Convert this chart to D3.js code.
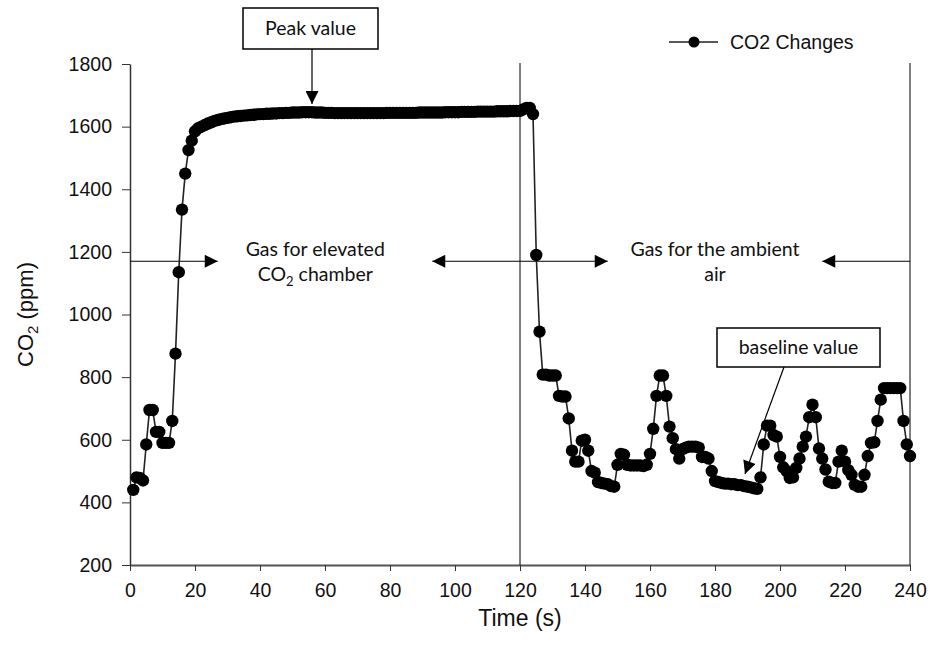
<!DOCTYPE html>
<html>
<head>
<meta charset="utf-8">
<script src="https://cdn.jsdelivr.net/npm/d3@7"></script>
<style>
  html, body { margin: 0; padding: 0; background: #fff; }
  svg { display: block; }
</style>
</head>
<body>
<div id="chart"></div>
<script>
// CO2 concentration logged once per second
const sampleStart = 1;   // first reading, s
const sampleStep = 1;    // seconds between readings
const co2Values = [
  440, 480, 478, 470, 585, 695, 695, 625, 625, 590,
  590, 590, 660, 875, 1135, 1335, 1450, 1525, 1555, 1585,
  1595, 1600, 1605, 1610, 1614, 1618, 1621, 1624, 1626, 1628,
  1630, 1632, 1633, 1634, 1635, 1636, 1637, 1638, 1639, 1640,
  1640, 1641, 1641, 1642, 1642, 1643, 1643, 1644, 1644, 1645,
  1645, 1645, 1646, 1646, 1646, 1646, 1645, 1645, 1645, 1644,
  1644, 1644, 1643, 1643, 1643, 1643, 1643, 1643, 1643, 1643,
  1643, 1643, 1643, 1643, 1643, 1643, 1643, 1643, 1644, 1644,
  1644, 1644, 1644, 1644, 1644, 1644, 1644, 1644, 1645, 1645,
  1645, 1645, 1645, 1645, 1645, 1645, 1646, 1646, 1646, 1646,
  1646, 1647, 1647, 1647, 1647, 1647, 1648, 1648, 1648, 1648,
  1648, 1648, 1649, 1649, 1649, 1649, 1650, 1650, 1650, 1650,
  1655, 1660, 1660, 1640, 1190, 945, 808, 808, 805, 805,
  805, 740, 738, 738, 668, 565, 530, 530, 597, 600,
  565, 500, 495, 465, 462, 460, 458, 452, 450, 520,
  555, 552, 520, 518, 518, 518, 518, 516, 520, 555,
  635, 740, 805, 805, 740, 642, 605, 570, 540, 570,
  575, 578, 578, 578, 575, 545, 545, 540, 500, 468,
  465, 462, 460, 460, 458, 458, 455, 455, 452, 450,
  448, 445, 443, 480, 585, 645, 645, 615, 610, 545,
  512, 500, 478, 480, 510, 540, 578, 610, 672, 712,
  672, 572, 540, 505, 466, 462, 462, 530, 565, 530,
  503, 488, 456, 450, 450, 488, 548, 590, 592, 660,
  728, 765, 765, 765, 765, 765, 765, 660, 585, 548
];
const seriesName = "CO2 Changes";

const xTicks = [0, 20, 40, 60, 80, 100, 120, 140, 160, 180, 200, 220, 240];
const yTicks = [200, 400, 600, 800, 1000, 1200, 1400, 1600, 1800];
const switchTimes = [120, 240];   // gas supply switched at these times
const arrowLevel = 1170;          // ppm level of the phase arrows

const data = co2Values.map((v, i) => ({ t: sampleStart + i * sampleStep, v }));

const W = 930, H = 647;
const margin = { left: 130, right: 20, top: 64, bottom: 82 };
const axisFont = "Arial, 'Liberation Sans', sans-serif";
const annFont = "Lato, 'Open Sans', sans-serif";

const svg = d3.select("#chart").append("svg")
  .attr("width", W).attr("height", H)
  .style("font-family", axisFont);

const defs = svg.append("defs");
defs.append("marker")
  .attr("id", "tri")
  .attr("viewBox", "0 0 10 10")
  .attr("refX", 10).attr("refY", 5)
  .attr("markerWidth", 14).attr("markerHeight", 13)
  .attr("markerUnits", "userSpaceOnUse")
  .attr("orient", "auto-start-reverse")
  .append("path").attr("d", "M0,0 L10,5 L0,10 Z").attr("fill", "#000");

const x = d3.scaleLinear().domain([0, 240]).range([margin.left, W - margin.right]);
const y = d3.scaleLinear().domain([200, 1800]).range([H - margin.bottom, margin.top]);

// Axes
const xAxis = svg.append("g")
  .attr("transform", `translate(0,${y(200)})`)
  .call(d3.axisBottom(x).tickValues(xTicks).tickFormat(d3.format("d"))
    .tickSize(6).tickSizeOuter(0).tickPadding(12));
xAxis.select(".domain").attr("stroke", "#555").attr("stroke-width", 2);
xAxis.selectAll(".tick line").attr("stroke", "#333");
xAxis.selectAll("text").attr("font-size", 19.5).attr("fill", "#111")
  .attr("font-family", axisFont);

const yAxis = svg.append("g")
  .attr("transform", `translate(${x(0)},0)`)
  .call(d3.axisLeft(y).tickValues(yTicks).tickFormat(d3.format("d"))
    .tickSize(8).tickSizeOuter(0).tickPadding(10));
yAxis.select(".domain").attr("stroke", "#333").attr("stroke-width", 1.5);
yAxis.selectAll(".tick line").attr("stroke", "#333");
yAxis.selectAll("text").attr("font-size", 19.5).attr("fill", "#111")
  .attr("font-family", axisFont);

// Vertical lines where the gas supply switches
svg.append("g").selectAll("line").data(switchTimes).join("line")
  .attr("x1", d => x(d)).attr("x2", d => x(d))
  .attr("y1", y(1800) - 1).attr("y2", y(200))
  .attr("stroke", "#000").attr("stroke-width", 1);

// Phase arrows
const ay = y(arrowLevel);
const arrows = [
  { x1: 0, x2: 27, start: false, end: true },
  { x1: 93, x2: 147, start: true, end: true },
  { x1: 213, x2: 240, start: true, end: false }
];
svg.append("g").selectAll("line").data(arrows).join("line")
  .attr("x1", d => x(d.x1)).attr("x2", d => x(d.x2))
  .attr("y1", ay).attr("y2", ay)
  .attr("stroke", "#000").attr("stroke-width", 1.2)
  .attr("marker-start", d => d.start ? "url(#tri)" : null)
  .attr("marker-end", d => d.end ? "url(#tri)" : null);

function phaseLabel(cx, lines) {
  const g = svg.append("g").attr("font-family", annFont).attr("font-size", 19.5)
    .attr("text-anchor", "middle").attr("fill", "#111");
  lines.forEach((ln, i) => {
    const t = g.append("text").attr("x", cx).attr("y", ay - 5 + i * 25);
    ln.forEach(part => {
      const s = t.append("tspan").text(part.text);
      if (part.sub) s.attr("font-size", 13).attr("dy", 5);
      if (part.after) s.attr("dy", -5);
    });
  });
}
phaseLabel(x(57), [[{ text: "Gas for elevated" }], [{ text: "CO" }, { text: "2", sub: true }, { text: " chamber", after: true }]]);
phaseLabel(x(180), [[{ text: "Gas for the ambient" }], [{ text: "air" }]]);

// Data line and markers
svg.append("path").datum(data)
  .attr("d", d3.line().x(d => x(d.t)).y(d => y(d.v)))
  .attr("fill", "none").attr("stroke", "#222").attr("stroke-width", 1.6);
svg.append("g").selectAll("circle").data(data).join("circle")
  .attr("cx", d => x(d.t)).attr("cy", d => y(d.v)).attr("r", 6.2)
  .attr("fill", "#000");

// Callout boxes
function callout(bx, by, bw, bh, label, ax1, ay1, ax2, ay2) {
  svg.append("line").attr("x1", ax1).attr("y1", ay1).attr("x2", ax2).attr("y2", ay2)
    .attr("stroke", "#000").attr("stroke-width", 1.2).attr("marker-end", "url(#tri)");
  svg.append("rect").attr("x", bx).attr("y", by).attr("width", bw).attr("height", bh)
    .attr("fill", "#fff").attr("stroke", "#000").attr("stroke-width", 1.5);
  svg.append("text").attr("x", bx + bw / 2).attr("y", by + bh / 2 + 6)
    .attr("text-anchor", "middle").attr("font-family", annFont).attr("font-size", 19.5)
    .attr("fill", "#111").text(label);
}
callout(243, 8, 135, 41, "Peak value", x(56), 49, x(56), y(1647) - 8);
callout(717, 328, 163, 39, "baseline value", 784, 367, 745, 474);

// Legend
const lg = svg.append("g").attr("transform", "translate(669,42)");
lg.append("line").attr("x1", 0).attr("x2", 49).attr("stroke", "#222").attr("stroke-width", 1.6);
lg.append("circle").attr("cx", 25).attr("r", 5.5).attr("fill", "#000");
lg.append("text").attr("x", 61).attr("y", 7).attr("font-size", 19.5).attr("fill", "#111")
  .text(seriesName);

// Axis titles
svg.append("text").attr("x", x(120)).attr("y", 626).attr("text-anchor", "middle")
  .attr("font-size", 23).attr("fill", "#111").text("Time (s)");
const yt = svg.append("text")
  .attr("transform", `translate(33,${y(1000)}) rotate(-90)`)
  .attr("text-anchor", "middle").attr("font-size", 22).attr("fill", "#111");
yt.append("tspan").text("CO");
yt.append("tspan").text("2").attr("font-size", 15).attr("dy", 5);
yt.append("tspan").text(" (ppm)").attr("dy", -5);
</script>
</body>
</html>
